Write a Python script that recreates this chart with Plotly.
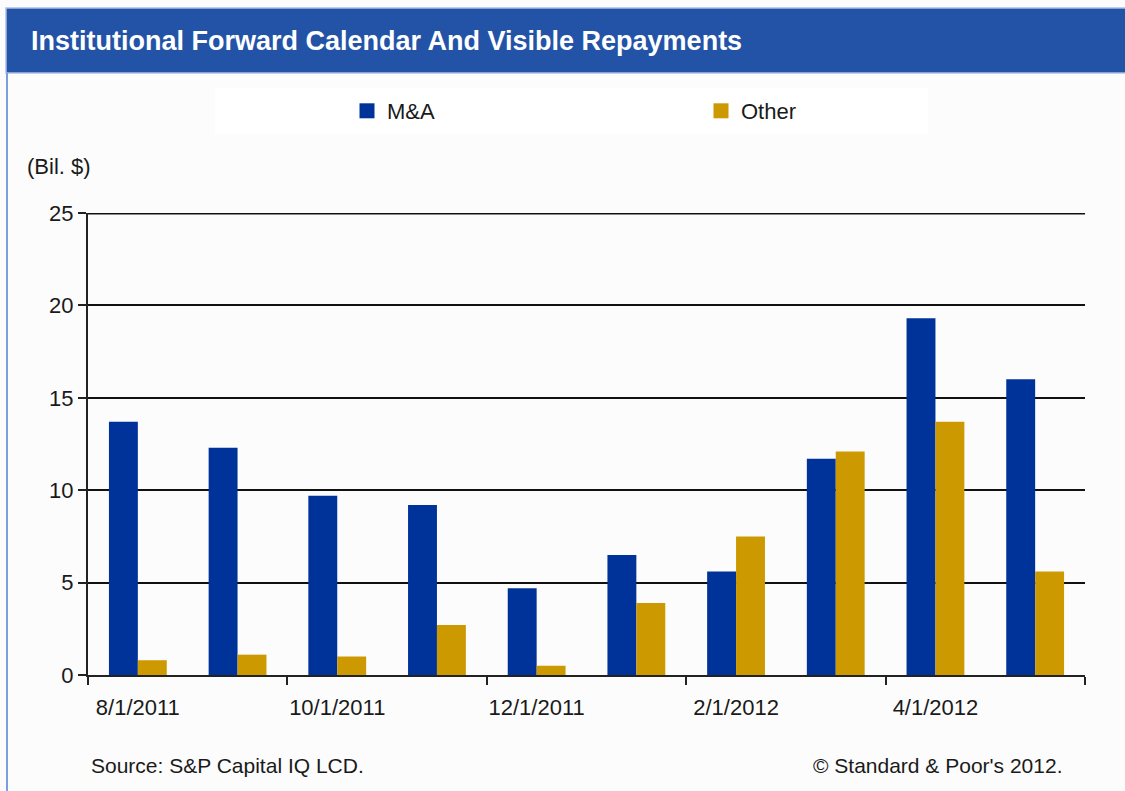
import plotly.graph_objects as go

# Monthly forward calendar, billions of dollars
months = ["8/1/2011", "9/1/2011", "10/1/2011", "11/1/2011", "12/1/2011",
          "1/1/2012", "2/1/2012", "3/1/2012", "4/1/2012", "5/1/2012"]
ma_values = [13.7, 12.3, 9.7, 9.2, 4.7, 6.5, 5.6, 11.7, 19.3, 16.0]
other_values = [0.8, 1.1, 1.0, 2.7, 0.5, 3.9, 7.5, 12.1, 13.7, 5.6]
y_ticks = [0, 5, 10, 15, 20, 25]

W, H = 1125, 791
FONT = "Liberation Sans, Arial, sans-serif"
TXT = "#1a1a1a"
MA_COLOR = "#003399"
OTHER_COLOR = "#CC9900"


def px_x(p):
    return p / W


def px_y(p):
    return 1 - p / H


fig = go.Figure()
fig.add_trace(go.Bar(x=months, y=ma_values, name="M&A", showlegend=False,
                     marker=dict(color=MA_COLOR, line=dict(width=0))))
fig.add_trace(go.Bar(x=months, y=other_values, name="Other", showlegend=False,
                     marker=dict(color=OTHER_COLOR, line=dict(width=0))))

# legend keys with larger square swatches
for name, color in [("M&A", MA_COLOR), ("Other", OTHER_COLOR)]:
    fig.add_trace(go.Scatter(x=[None], y=[None], mode="markers", name=name,
                             marker=dict(symbol="square", size=15, color=color)))

fig.update_layout(
    width=W, height=H,
    margin=dict(l=0, r=0, t=0, b=0),
    paper_bgcolor="#FCFCFC",
    plot_bgcolor="rgba(0,0,0,0)",
    barmode="group", bargap=0.42, bargroupgap=0,
    font=dict(family=FONT, size=22, color=TXT),
    showlegend=True,
    legend=dict(orientation="h", x=px_x(347), y=px_y(111), xanchor="left",
                yanchor="middle", bgcolor="rgba(0,0,0,0)",
                font=dict(family=FONT, size=22, color=TXT),
                entrywidth=309, entrywidthmode="pixels",
                itemclick=False, traceorder="normal"),
    xaxis=dict(domain=[px_x(88), px_x(1085)], type="category",
               categoryorder="array", categoryarray=months,
               tickmode="linear", tick0=0, dtick=2, tickson="boundaries",
               tickangle=0,
               ticks="outside", ticklen=8, tickwidth=2, tickcolor="#222",
               showline=True, linecolor="#222", linewidth=2,
               showgrid=False, automargin=False, ticklabelstandoff=12,
               tickfont=dict(family=FONT, size=22, color=TXT)),
    yaxis=dict(domain=[px_y(675), px_y(213)], range=[0, 25],
               tickvals=y_ticks, ticks="outside", ticklen=8, tickwidth=2,
               tickcolor="#222", showline=True, linecolor="#222", linewidth=2,
               showgrid=True, gridcolor="#111", gridwidth=1.6,
               zeroline=False, automargin=False,
               tickfont=dict(family=FONT, size=22, color=TXT)),
)

# top gridline sits on the plot edge (half of it is clipped), so draw it
# on the y scale explicitly with doubled width
fig.add_shape(type="line", xref="x domain", yref="y", x0=0, x1=1,
              y0=y_ticks[-1], y1=y_ticks[-1], line=dict(color="#111", width=3.2))

# header band, legend panel and frame line
fig.add_shape(type="rect", xref="paper", yref="paper", layer="below",
              x0=px_x(6), x1=1.01, y0=px_y(8), y1=px_y(73),
              fillcolor="#2353A7", line=dict(color="#A9BFE6", width=1.5))
fig.add_shape(type="rect", xref="paper", yref="paper", layer="below",
              x0=px_x(215), x1=px_x(928), y0=px_y(88), y1=px_y(134),
              fillcolor="#FFFFFF", line=dict(width=0))
fig.add_shape(type="line", xref="paper", yref="paper",
              x0=px_x(7), x1=px_x(7), y0=px_y(73), y1=0,
              line=dict(color="#7C9FDC", width=2))

fig.add_annotation(text="<b>Institutional Forward Calendar And Visible Repayments</b>",
                   xref="paper", yref="paper", x=px_x(29), y=px_y(41),
                   xanchor="left", yanchor="middle", showarrow=False,
                   font=dict(family=FONT, size=27, color="#FFFFFF"))
fig.add_annotation(text="(Bil. $)", xref="paper", yref="paper",
                   x=px_x(25), y=px_y(166), xanchor="left", yanchor="middle",
                   showarrow=False, font=dict(family=FONT, size=22, color=TXT))
fig.add_annotation(text="Source: S&P Capital IQ LCD.", xref="paper", yref="paper",
                   x=px_x(89), y=px_y(765), xanchor="left", yanchor="middle",
                   showarrow=False, font=dict(family=FONT, size=21, color=TXT))
fig.add_annotation(text="© Standard & Poor's 2012.", xref="paper", yref="paper",
                   x=px_x(1064), y=px_y(765), xanchor="right", yanchor="middle",
                   showarrow=False, font=dict(family=FONT, size=21, color=TXT))

fig.write_html("out.html")
